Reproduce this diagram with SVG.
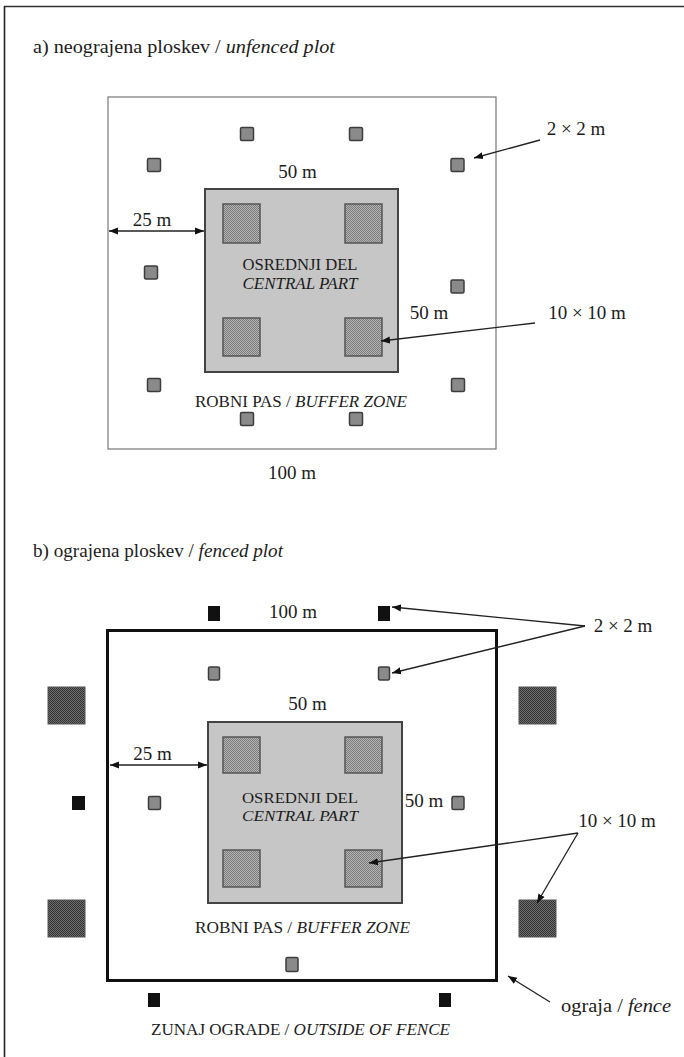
<svg xmlns="http://www.w3.org/2000/svg" width="684" height="1057" viewBox="0 0 684 1057">
<defs>
<pattern id="hatchLight" width="2" height="2" patternUnits="userSpaceOnUse">
<rect width="2" height="2" fill="#b4b4b4"/>
<rect width="1" height="1" fill="#7c7c7c"/>
<rect x="1" y="1" width="1" height="1" fill="#7c7c7c"/>
</pattern>
<pattern id="hatchDark" width="2" height="2" patternUnits="userSpaceOnUse">
<rect width="2" height="2" fill="#707070"/>
<rect width="1" height="1" fill="#303030"/>
<rect x="1" y="1" width="1" height="1" fill="#303030"/>
</pattern>
<marker id="arr" viewBox="0 0 10 10" refX="10" refY="5" markerWidth="9" markerHeight="9" markerUnits="userSpaceOnUse" orient="auto-start-reverse">
<path d="M0,1 L10,5 L0,9 Z" fill="#111"/>
</marker>
<style>
text{font-family:"Liberation Serif","Times New Roman",serif;fill:#1c1c1c;}
.title{font-size:19px;}
.num{font-size:19px;}
.caps{font-size:16.5px;}
.capsb{font-size:15px;}
.it{font-style:italic;}
.small{fill:#8a8a8a;stroke:#3c3c3c;stroke-width:1.5;}
.black{fill:#111;stroke:#111;stroke-width:1;}
.hl{fill:url(#hatchLight);stroke:#555;stroke-width:1.5;}
.hd{fill:url(#hatchDark);stroke:#555;stroke-width:1;}
.central{fill:#c6c6c6;stroke:#444;stroke-width:2;}
.conn{fill:none;stroke:#222;stroke-width:1.3;}
</style>
</defs>
<rect width="684" height="1057" fill="#fff"/>
<g id="frame">
<line x1="4" y1="6.5" x2="684" y2="6.5" stroke="#333" stroke-width="1.6"/>
<line x1="4.5" y1="6" x2="4.5" y2="1057" stroke="#222" stroke-width="1.6"/>
</g>

<!-- Part a -->
<g id="titleA"><text class="title" x="33" y="53" textLength="302" lengthAdjust="spacingAndGlyphs">a) neograjena ploskev / <tspan class="it">unfenced plot</tspan></text></g>
<g id="plotA">
<rect x="108" y="97" width="388" height="352" fill="none" stroke="#777" stroke-width="1.2"/>
</g>
<g id="centralA">
<rect class="central" x="205" y="189" width="193" height="183"/>
<rect class="hl" x="223" y="204" width="37" height="39"/>
<rect class="hl" x="345" y="204" width="37" height="39"/>
<rect class="hl" x="223" y="318" width="37" height="38"/>
<rect class="hl" x="345" y="318" width="37" height="38"/>
<text class="caps" x="300" y="270" text-anchor="middle" textLength="115" lengthAdjust="spacingAndGlyphs">OSREDNJI DEL</text>
<text class="caps it" x="300" y="289" text-anchor="middle" textLength="115" lengthAdjust="spacingAndGlyphs">CENTRAL PART</text>
</g>
<g id="smallA">
<rect class="small" x="240.5" y="127.5" width="13" height="13" rx="1.5"/>
<rect class="small" x="349.5" y="127.5" width="13" height="13" rx="1.5"/>
<rect class="small" x="147.5" y="158.5" width="13" height="13" rx="1.5"/>
<rect class="small" x="451" y="158.5" width="13" height="13" rx="1.5"/>
<rect class="small" x="144.5" y="266" width="13" height="13" rx="1.5"/>
<rect class="small" x="451" y="280" width="13" height="13" rx="1.5"/>
<rect class="small" x="147.5" y="378.5" width="13" height="13" rx="1.5"/>
<rect class="small" x="451.5" y="378.5" width="13" height="13" rx="1.5"/>
<rect class="small" x="240.5" y="412.5" width="13" height="13" rx="1.5"/>
<rect class="small" x="349.5" y="412.5" width="13" height="13" rx="1.5"/>
</g>
<g id="labelsA">
<text class="num" x="297.5" y="178" text-anchor="middle">50 m</text>
<text class="num" x="152" y="226" text-anchor="middle">25 m</text>
<text class="num" x="429" y="319" text-anchor="middle">50 m</text>
<text class="num" x="576" y="135" text-anchor="middle">2 × 2 m</text>
<text class="num" x="587" y="319" text-anchor="middle">10 × 10 m</text>
<text class="caps" x="195" y="407" textLength="212" lengthAdjust="spacingAndGlyphs">ROBNI PAS / <tspan class="it">BUFFER ZONE</tspan></text>
<text class="num" x="292" y="479" text-anchor="middle">100 m</text>
</g>

<!-- Part b -->
<g id="titleB"><text class="title" x="33" y="557" textLength="250" lengthAdjust="spacingAndGlyphs">b) ograjena ploskev / <tspan class="it">fenced plot</tspan></text></g>
<g id="fenceB">
<rect x="107.5" y="630.5" width="389" height="350" fill="none" stroke="#111" stroke-width="3"/>
</g>
<g id="centralB">
<rect class="central" x="208" y="722" width="194" height="181"/>
<rect class="hl" x="223" y="737" width="37" height="36"/>
<rect class="hl" x="345" y="737" width="37" height="36"/>
<rect class="hl" x="223" y="850" width="37" height="37"/>
<rect class="hl" x="345" y="850" width="37" height="37"/>
<text class="capsb" x="242" y="803" textLength="116" lengthAdjust="spacingAndGlyphs">OSREDNJI DEL</text>
<text class="capsb it" x="242" y="821" textLength="116" lengthAdjust="spacingAndGlyphs">CENTRAL PART</text>
</g>
<g id="outsideB">
<rect class="hd" x="48" y="687" width="37" height="37"/>
<rect class="hd" x="519" y="687" width="37" height="37"/>
<rect class="hd" x="48" y="900" width="37" height="37"/>
<rect class="hd" x="519" y="900" width="37" height="37"/>
<rect class="black" x="208.5" y="606.5" width="11" height="14"/>
<rect class="black" x="378.5" y="606.5" width="11" height="14"/>
<rect class="black" x="72.5" y="796.5" width="12" height="13"/>
<rect class="black" x="148.5" y="993.5" width="11" height="13"/>
<rect class="black" x="439.5" y="993.5" width="11" height="13"/>
</g>
<g id="smallB">
<rect class="small" x="208.5" y="667" width="11" height="13" rx="1.5"/>
<rect class="small" x="378.5" y="667" width="11" height="13" rx="1.5"/>
<rect class="small" x="148.5" y="796.5" width="12" height="13" rx="1.5"/>
<rect class="small" x="452" y="796.5" width="12" height="13" rx="1.5"/>
<rect class="small" x="286" y="957.5" width="12" height="14" rx="1.5"/>
</g>
<g id="labelsB">
<text class="num" x="293" y="618" text-anchor="middle">100 m</text>
<text class="num" x="623" y="632" text-anchor="middle">2 × 2 m</text>
<text class="num" x="307.5" y="710" text-anchor="middle">50 m</text>
<text class="num" x="152.5" y="760" text-anchor="middle">25 m</text>
<text class="num" x="424" y="807" text-anchor="middle">50 m</text>
<text class="num" x="617" y="827" text-anchor="middle">10 × 10 m</text>
<text class="caps" x="195" y="933" textLength="215" lengthAdjust="spacingAndGlyphs">ROBNI PAS / <tspan class="it">BUFFER ZONE</tspan></text>
<text class="num" x="561" y="1012" textLength="110" lengthAdjust="spacingAndGlyphs">ograja / <tspan class="it">fence</tspan></text>
<text class="caps" x="151" y="1035" textLength="299" lengthAdjust="spacingAndGlyphs">ZUNAJ OGRADE / <tspan class="it">OUTSIDE OF FENCE</tspan></text>
</g>

<g id="connectors">
<line class="conn" x1="109" y1="231" x2="204" y2="231" marker-start="url(#arr)" marker-end="url(#arr)"/>
<line class="conn" x1="540" y1="140" x2="474" y2="158" marker-end="url(#arr)"/>
<line class="conn" x1="535" y1="323" x2="381" y2="341" marker-end="url(#arr)"/>
<line class="conn" x1="110" y1="765" x2="207" y2="765" marker-start="url(#arr)" marker-end="url(#arr)"/>
<line class="conn" x1="585" y1="626" x2="392" y2="607" marker-end="url(#arr)"/>
<line class="conn" x1="585" y1="626" x2="392" y2="673" marker-end="url(#arr)"/>
<line class="conn" x1="578" y1="833" x2="369" y2="863" marker-end="url(#arr)"/>
<line class="conn" x1="578" y1="833" x2="537" y2="903" marker-end="url(#arr)"/>
<line class="conn" x1="550" y1="1002" x2="508" y2="976" marker-end="url(#arr)"/>
</g>
</svg>
